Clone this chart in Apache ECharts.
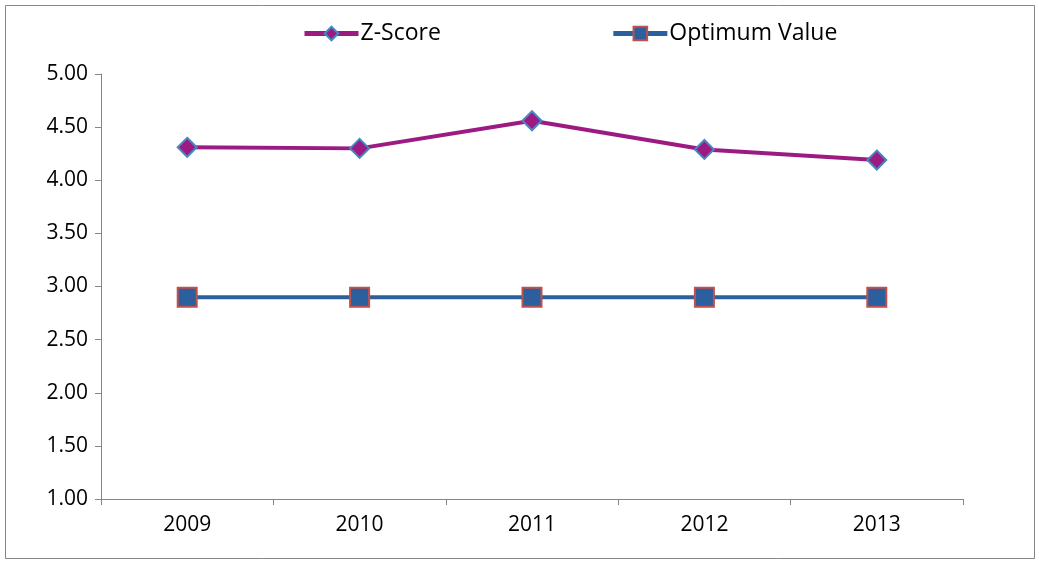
<!DOCTYPE html>
<html>
<head>
<meta charset="utf-8">
<script src="https://cdn.jsdelivr.net/npm/echarts@6/dist/echarts.min.js"></script>
<style>
  html, body { margin: 0; padding: 0; background: #fff; }
  #chart { width: 1039px; height: 565px; }
</style>
</head>
<body>
<div id="chart"></div>
<script>
const years = ['2009', '2010', '2011', '2012', '2013']
const zScore = [4.31, 4.30, 4.56, 4.29, 4.19]
const optimumValue = [2.90, 2.90, 2.90, 2.90, 2.90]

const chart = echarts.init(document.getElementById('chart'))
const font = '"Open Sans", sans-serif'

chart.setOption({
  animation: false,
  graphic: [{
    type: 'rect',
    shape: { x: 5.5, y: 5.5, width: 1029, height: 553 },
    style: { fill: 'none', stroke: '#868686', lineWidth: 1 },
    silent: true
  }],
  legend: {
    top: 17,
    left: 297,
    itemWidth: 54,
    itemHeight: 17,
    itemGap: 170,
    lineStyle: { width: 5 },
    textStyle: { color: '#000', fontSize: 23, fontFamily: font, padding: [0, 0, 0, -3] },
    data: ['Z-Score', 'Optimum Value']
  },
  grid: {
    left: 101,
    right: 76,
    top: 74,
    bottom: 66
  },
  xAxis: {
    type: 'category',
    data: years,
    boundaryGap: true,
    axisLine: { lineStyle: { color: '#868686', width: 1 } },
    axisTick: { show: true, length: 6, lineStyle: { color: '#868686' } },
    axisLabel: { color: '#000', fontSize: 21, fontFamily: font, margin: 16 },
    splitLine: { show: false }
  },
  yAxis: {
    type: 'value',
    min: 1,
    max: 5,
    interval: 0.5,
    axisLine: { show: true, lineStyle: { color: '#868686', width: 1 } },
    axisTick: { show: true, length: 6, lineStyle: { color: '#868686' } },
    axisLabel: {
      color: '#000',
      fontSize: 21,
      fontFamily: font,
      margin: 13,
      formatter: v => v.toFixed(2)
    },
    splitLine: { show: false }
  },
  series: [
    {
      name: 'Z-Score',
      type: 'line',
      data: zScore,
      symbol: 'diamond',
      symbolSize: 19,
      lineStyle: { color: '#9B1B82', width: 4 },
      itemStyle: { color: '#9B1B82', borderColor: '#4A86C0', borderWidth: 2 }
    },
    {
      name: 'Optimum Value',
      type: 'line',
      data: optimumValue,
      symbol: 'rect',
      symbolSize: 19,
      lineStyle: { color: '#2C5F9E', width: 4 },
      itemStyle: { color: '#2C5F9E', borderColor: '#C0504D', borderWidth: 2 }
    }
  ]
})
</script>
</body>
</html>
